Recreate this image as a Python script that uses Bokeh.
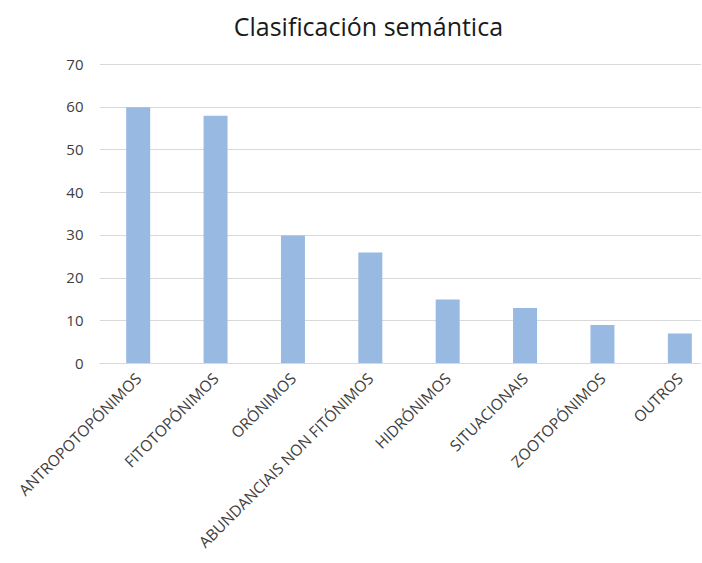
import math
from bokeh.plotting import figure
from bokeh.models import Range1d, FixedTicker, ColumnDataSource, Label
from bokeh.embed import file_html
from bokeh.resources import INLINE

categories = ["ANTROPOTOPÓNIMOS", "FITOTOPÓNIMOS", "ORÓNIMOS", "ABUNDANCIAIS NON FITÓNIMOS",
              "HIDRÓNIMOS", "SITUACIONAIS", "ZOOTOPÓNIMOS", "OUTROS"]
values = [60, 58, 30, 26, 15, 13, 9, 7]
y_ticks = [0, 10, 20, 30, 40, 50, 60, 70]
title_text = "Clasificación semántica"

positions = list(range(len(categories)))
source = ColumnDataSource(dict(x=positions, top=values))

p = figure(frame_width=602, frame_height=363, output_backend="svg", toolbar_location=None,
           x_range=Range1d(-0.5, 7.28), y_range=Range1d(0, 85.0),
           min_border_left=99, min_border_right=0, min_border_top=0, min_border_bottom=0)

title = Label(x=2.975, y=79.1, text=title_text, text_align="center", text_baseline="middle",
              text_font="Open Sans", text_font_size="25px", text_color="#1a1a1a")
p.add_layout(title)

p.vbar(x="x", top="top", width=0.31, bottom=0, source=source,
       fill_color="#98B9E1", line_color=None)

p.xaxis.ticker = FixedTicker(ticks=positions)
p.xaxis.major_label_overrides = {i: c for i, c in enumerate(categories)}
p.xaxis.major_label_orientation = math.pi / 4
p.xaxis.major_label_text_font = "Open Sans"
p.xaxis.major_label_text_font_size = "15.5px"
p.xaxis.major_label_text_color = "#404040"
p.xaxis.major_tick_line_color = None
p.xaxis.minor_tick_line_color = None
p.xaxis.axis_line_color = "#d9d9d9"
p.xaxis.major_label_standoff = 6

p.yaxis.ticker = FixedTicker(ticks=y_ticks)
p.yaxis.major_label_text_font = "Open Sans"
p.yaxis.major_label_text_font_size = "15px"
p.yaxis.major_label_text_color = "#404040"
p.yaxis.major_tick_line_color = None
p.yaxis.minor_tick_line_color = None
p.yaxis.axis_line_color = None
p.yaxis.major_label_standoff = 10

p.xgrid.grid_line_color = None
p.ygrid.grid_line_color = "#d9d9d9"
p.ygrid.grid_line_width = 1
p.outline_line_color = None
p.background_fill_color = "white"
p.border_fill_color = "white"

open("out.html", "w").write(file_html(p, INLINE))
